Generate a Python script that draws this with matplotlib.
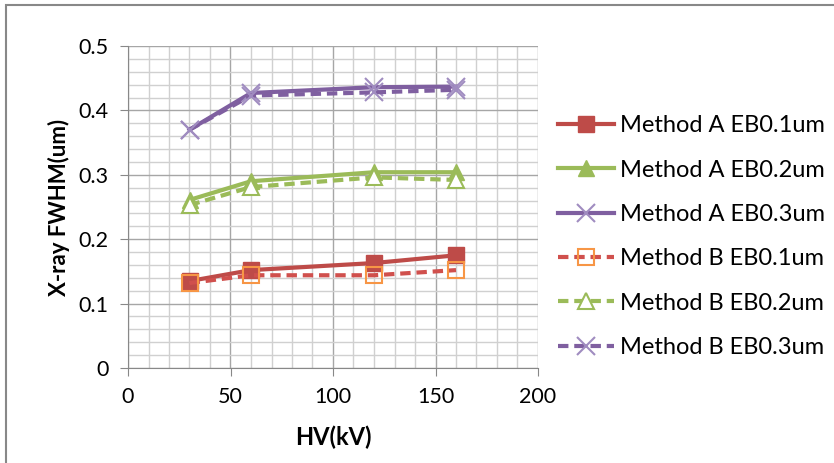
import numpy as np
import matplotlib.pyplot as plt
import matplotlib.patches as patches

# data
hv = [30, 60, 120, 160]
a_eb01 = [0.135, 0.152, 0.163, 0.175]
a_eb02 = [0.261, 0.290, 0.304, 0.304]
a_eb03 = [0.370, 0.427, 0.436, 0.437]
b_eb01 = [0.132, 0.144, 0.144, 0.152]
b_eb02 = [0.253, 0.281, 0.296, 0.292]
b_eb03 = [0.370, 0.423, 0.428, 0.432]

red = '#BE4B48'
orange = '#F79646'
green = '#9BBB59'
purple = '#7F5FA0'
purple_lt = '#A08CC0'

plt.rcParams['font.family'] = ['Lato', 'DejaVu Sans']

fig = plt.figure(figsize=(8.34, 4.63), dpi=100)
ax = fig.add_axes([128/834, 1-368/463, 410/834, 322/463])

# chart border (left and top visible)
fig.patches.append(patches.Rectangle((6/834, -0.1), 1.2, 1-5/463+0.1, transform=fig.transFigure,
                                     fill=False, edgecolor='#888888', lw=1.5))

ax.set_xlim(0, 200)
ax.set_ylim(0, 0.5)
ax.set_xticks(np.arange(0, 201, 50))
ax.set_yticks(np.arange(0, 0.51, 0.1))
ax.set_yticklabels(['0', '0.1', '0.2', '0.3', '0.4', '0.5'])
ax.set_xticks(np.arange(0, 201, 10), minor=True)
ax.set_yticks(np.arange(0, 0.501, 0.02), minor=True)
ax.grid(which='minor', color='#D0D0D0', lw=1)
ax.grid(which='major', color='#A6A6A6', lw=1)
ax.set_axisbelow(True)
for s in ax.spines.values():
    s.set_visible(False)
ax.spines['left'].set_visible(True)
ax.spines['bottom'].set_visible(True)
ax.spines['left'].set_color('#888888')
ax.spines['bottom'].set_color('#888888')
ax.tick_params(which='major', length=6, color='#888888', labelsize=15.5, pad=8)
ax.tick_params(which='minor', length=0)

dash = (2.5, 1.4)
ax.plot(hv, a_eb01, '-', color=red, lw=3, marker='s', ms=12, mfc=red, mec=red, label='Method A EB0.1um')
ax.plot(hv, a_eb02, '-', color=green, lw=3, marker='^', ms=12, mfc=green, mec=green, label='Method A EB0.2um')
ax.plot(hv, a_eb03, '-', color=purple, lw=3, marker='x', ms=13, mew=1.5, mec=purple_lt, label='Method A EB0.3um')
ax.plot(hv, b_eb01, '--', color='#D0504D', lw=3, dashes=dash, marker='s', ms=12, mfc='none', mec=orange, mew=1.5, label='Method B EB0.1um')
ax.plot(hv, b_eb02, '--', color=green, lw=3, dashes=dash, marker='^', ms=12, mfc='white', mec=green, mew=1.5, label='Method B EB0.2um')
ax.plot(hv, b_eb03, '--', color=purple, lw=3, dashes=dash, marker='x', ms=13, mew=1.5, mec=purple_lt, label='Method B EB0.3um')

ax.set_xlabel('HV(kV)', fontsize=17, fontweight='bold', labelpad=13)
ax.set_ylabel('X-ray FWHM(um)', fontsize=16, fontweight='bold', labelpad=6)

ax.legend(loc='center left', bbox_to_anchor=(1.049, 0.408), frameon=False, fontsize=17,
          handlelength=2.37, labelspacing=0.99, handletextpad=0.25, borderpad=0, borderaxespad=0)

plt.savefig('out.png', dpi=100)
